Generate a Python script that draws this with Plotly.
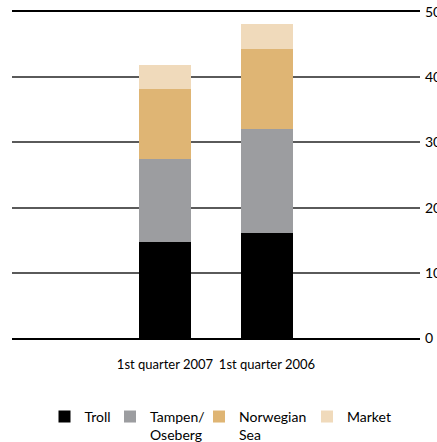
import plotly.graph_objects as go

categories = ["1st quarter 2007", "1st quarter 2006"]
series_names = ["Troll", "Tampen/<br>Oseberg", "Norwegian<br>Sea", "Market"]
troll = [14.7, 16.1]
tampen = [12.8, 16.0]
norwegian = [10.7, 12.3]
market = [3.6, 3.8]
colors = ["#000000", "#9c9da0", "#dfb574", "#f0dabb"]
y_ticks = [0, 10, 20, 30, 40, 50]

FONT = "Lato, sans-serif"

fig = go.Figure()
values = [troll, tampen, norwegian, market]
legend_ids = ["legend", "legend2", "legend3", "legend4"]
for name, vals, col, lg in zip(series_names, values, colors, legend_ids):
    fig.add_trace(go.Bar(x=categories, y=vals, name=name, marker_color=col,
                         marker_line_width=0, legend=lg, width=0.517,
                         showlegend=True, hoverinfo="skip"))

W, H = 437, 442
ml, mr, mt, mb = 12, 17, 12, 104
pw = W - ml - mr

def lx(px):
    return (px - ml) / pw

legend_px = [44.5, 110, 199, 307]
layout_legends = {}
for lg, px in zip(legend_ids, legend_px):
    layout_legends[lg] = dict(x=lx(px), xanchor="left", y=-0.193, yanchor="top",
                              orientation="h", bgcolor="rgba(0,0,0,0)",
                              font=dict(family=FONT, size=14, color="#000000"),
                              itemwidth=30, tracegroupgap=0, visible=True,
                              valign="top")

fig.update_layout(
    width=W, height=H,
    margin=dict(l=ml, r=mr, t=mt, b=mb, autoexpand=False),
    barmode="stack",
    showlegend=True,
    plot_bgcolor="white", paper_bgcolor="white",
    font=dict(family=FONT, size=13, color="#000000"),
    xaxis=dict(type="category", range=[-1.5, 2.5], showgrid=False,
               showline=True, linecolor="#000000", linewidth=1.5, mirror=True,
               ticks="", ticklabelstandoff=14, zeroline=False, tickangle=0,
               tickfont=dict(family=FONT, size=13)),
    yaxis=dict(side="right", range=[0, 50], tickvals=y_ticks, showgrid=True,
               gridcolor="#5a5a5a", gridwidth=1.5, zeroline=False, showline=False,
               ticks="", automargin=False, ticklabelstandoff=4,
               tickfont=dict(family=FONT, size=14)),
    **layout_legends,
)

fig.write_html("out.html", config={"displayModeBar": False},
               post_script="document.body.style.margin='0';")
